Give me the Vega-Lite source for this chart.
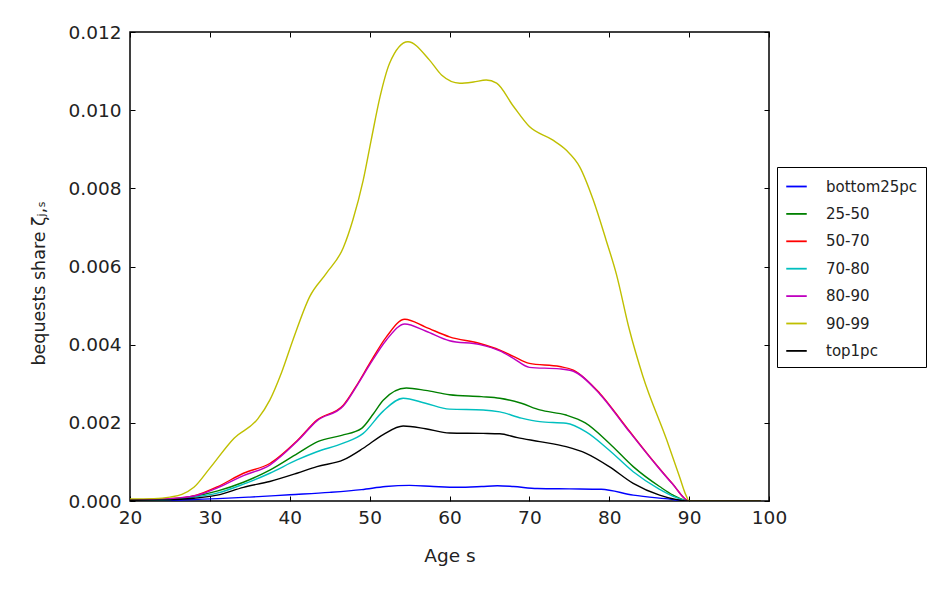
{
  "$schema": "https://vega.github.io/schema/vega-lite/v6.json",
  "width": 639,
  "height": 469,
  "autosize": {"type": "none"},
  "padding": {"left": 130, "top": 32, "right": 168, "bottom": 91},
  "background": "white",
  "config": {
    "font": "DejaVu Sans",
    "view": {"stroke": "#000000", "strokeWidth": 1.5},
    "axis": {"domain": false, "grid": false, "tickColor": "#000000", "tickSize": -5, "tickWidth": 1, "labelFlush": false,
      "labelFont": "DejaVu Sans", "labelFontSize": 18.5, "labelColor": "#222222",
      "titleFont": "DejaVu Sans", "titleFontSize": 18.5, "titleFontWeight": "normal", "titleColor": "#222222"}
  },
  "data": {"values": [
    {"age":20,"group":"bottom25pc","v":0.00001},{"age":25,"group":"bottom25pc","v":0.00002},{"age":28,"group":"bottom25pc","v":0.00004},{"age":31,"group":"bottom25pc","v":0.00006},{"age":35,"group":"bottom25pc","v":0.0001},{"age":40,"group":"bottom25pc","v":0.00016},{"age":45,"group":"bottom25pc","v":0.00022},{"age":49,"group":"bottom25pc","v":0.00029},{"age":52,"group":"bottom25pc","v":0.00037},{"age":55,"group":"bottom25pc","v":0.0004},{"age":58,"group":"bottom25pc","v":0.00037},{"age":61,"group":"bottom25pc","v":0.00035},{"age":64,"group":"bottom25pc","v":0.00037},{"age":66,"group":"bottom25pc","v":0.00039},{"age":68,"group":"bottom25pc","v":0.00037},{"age":71,"group":"bottom25pc","v":0.00032},{"age":75,"group":"bottom25pc","v":0.00031},{"age":79,"group":"bottom25pc","v":0.0003},{"age":83,"group":"bottom25pc","v":0.00015},{"age":87,"group":"bottom25pc","v":0.00006},{"age":90,"group":"bottom25pc","v":0},{"age":99,"group":"bottom25pc","v":0},

    {"age":20,"group":"25-50","v":0.00002},{"age":25,"group":"25-50","v":0.00004},{"age":28,"group":"25-50","v":0.00012},{"age":31,"group":"25-50","v":0.00026},{"age":34.2,"group":"25-50","v":0.00048},{"age":37.5,"group":"25-50","v":0.00079},{"age":41,"group":"25-50","v":0.00122},{"age":43.5,"group":"25-50","v":0.00152},{"age":46.5,"group":"25-50","v":0.00168},{"age":49,"group":"25-50","v":0.00186},{"age":50.5,"group":"25-50","v":0.00224},{"age":51.7,"group":"25-50","v":0.00258},{"age":54.6,"group":"25-50","v":0.00289},{"age":57,"group":"25-50","v":0.00283},{"age":60,"group":"25-50","v":0.00272},{"age":64,"group":"25-50","v":0.00267},{"age":66.3,"group":"25-50","v":0.00263},{"age":69,"group":"25-50","v":0.0025},{"age":71.3,"group":"25-50","v":0.00233},{"age":74.6,"group":"25-50","v":0.0022},{"age":77,"group":"25-50","v":0.002},{"age":80,"group":"25-50","v":0.00148},{"age":83,"group":"25-50","v":0.00088},{"age":86.3,"group":"25-50","v":0.00037},{"age":88,"group":"25-50","v":0.00015},{"age":90,"group":"25-50","v":0},{"age":99,"group":"25-50","v":0},

    {"age":20,"group":"50-70","v":0.00003},{"age":25,"group":"50-70","v":0.00006},{"age":28.3,"group":"50-70","v":0.00015},{"age":31,"group":"50-70","v":0.00037},{"age":34.2,"group":"50-70","v":0.00071},{"age":37.5,"group":"50-70","v":0.00096},{"age":41,"group":"50-70","v":0.00156},{"age":43.4,"group":"50-70","v":0.00207},{"age":46.7,"group":"50-70","v":0.00245},{"age":48.5,"group":"50-70","v":0.003},{"age":50,"group":"50-70","v":0.00352},{"age":52.1,"group":"50-70","v":0.0042},{"age":54.4,"group":"50-70","v":0.00465},{"age":57,"group":"50-70","v":0.00445},{"age":60,"group":"50-70","v":0.0042},{"age":63.8,"group":"50-70","v":0.00403},{"age":66.3,"group":"50-70","v":0.00386},{"age":68,"group":"50-70","v":0.0037},{"age":70,"group":"50-70","v":0.00352},{"age":73.8,"group":"50-70","v":0.00344},{"age":75.5,"group":"50-70","v":0.00335},{"age":78.8,"group":"50-70","v":0.00276},{"age":82.1,"group":"50-70","v":0.0019},{"age":85.4,"group":"50-70","v":0.00105},{"age":87.9,"group":"50-70","v":0.00045},{"age":90,"group":"50-70","v":0},{"age":99,"group":"50-70","v":0},

    {"age":20,"group":"70-80","v":0.00002},{"age":25,"group":"70-80","v":0.00004},{"age":28,"group":"70-80","v":0.0001},{"age":30.9,"group":"70-80","v":0.0002},{"age":34.2,"group":"70-80","v":0.00043},{"age":37.5,"group":"70-80","v":0.00071},{"age":40.9,"group":"70-80","v":0.00105},{"age":43.4,"group":"70-80","v":0.00126},{"age":46.7,"group":"70-80","v":0.00148},{"age":49.2,"group":"70-80","v":0.00173},{"age":51.7,"group":"70-80","v":0.0023},{"age":54.2,"group":"70-80","v":0.00263},{"age":57,"group":"70-80","v":0.0025},{"age":60,"group":"70-80","v":0.00235},{"age":64.2,"group":"70-80","v":0.00233},{"age":66.3,"group":"70-80","v":0.00228},{"age":69,"group":"70-80","v":0.00212},{"age":71.3,"group":"70-80","v":0.00203},{"age":74.6,"group":"70-80","v":0.00199},{"age":77.1,"group":"70-80","v":0.00177},{"age":80,"group":"70-80","v":0.0013},{"age":83,"group":"70-80","v":0.00075},{"age":86.3,"group":"70-80","v":0.0003},{"age":88,"group":"70-80","v":0.00012},{"age":90,"group":"70-80","v":0},{"age":99,"group":"70-80","v":0},

    {"age":20,"group":"80-90","v":0.00003},{"age":25,"group":"80-90","v":0.00006},{"age":28.3,"group":"80-90","v":0.00014},{"age":31,"group":"80-90","v":0.00034},{"age":34.2,"group":"80-90","v":0.00065},{"age":37.5,"group":"80-90","v":0.00092},{"age":41,"group":"80-90","v":0.00154},{"age":43.4,"group":"80-90","v":0.00205},{"age":46.7,"group":"80-90","v":0.00243},{"age":48.5,"group":"80-90","v":0.00298},{"age":50,"group":"80-90","v":0.00348},{"age":52.1,"group":"80-90","v":0.00412},{"age":54.4,"group":"80-90","v":0.00453},{"age":57,"group":"80-90","v":0.00435},{"age":60,"group":"80-90","v":0.0041},{"age":63.8,"group":"80-90","v":0.004},{"age":66.3,"group":"80-90","v":0.00384},{"age":68,"group":"80-90","v":0.00365},{"age":70,"group":"80-90","v":0.00342},{"age":73.8,"group":"80-90","v":0.00338},{"age":75.5,"group":"80-90","v":0.00332},{"age":78.8,"group":"80-90","v":0.00274},{"age":82.1,"group":"80-90","v":0.00188},{"age":85.4,"group":"80-90","v":0.00104},{"age":87.9,"group":"80-90","v":0.00044},{"age":90,"group":"80-90","v":0},{"age":99,"group":"80-90","v":0},

    {"age":20,"group":"90-99","v":0.00005},{"age":23,"group":"90-99","v":0.00006},{"age":25,"group":"90-99","v":0.0001},{"age":26.5,"group":"90-99","v":0.00017},{"age":28,"group":"90-99","v":0.00035},{"age":30,"group":"90-99","v":0.00084},{"age":33,"group":"90-99","v":0.0016},{"age":36,"group":"90-99","v":0.0021},{"age":37.5,"group":"90-99","v":0.00258},{"age":39,"group":"90-99","v":0.0033},{"age":40.4,"group":"90-99","v":0.00412},{"age":42.5,"group":"90-99","v":0.00523},{"age":44.6,"group":"90-99","v":0.00583},{"age":46.7,"group":"90-99","v":0.00648},{"age":47.9,"group":"90-99","v":0.00719},{"age":49.2,"group":"90-99","v":0.00821},{"age":50.2,"group":"90-99","v":0.00924},{"age":51.3,"group":"90-99","v":0.01034},{"age":52.5,"group":"90-99","v":0.0112},{"age":54.8,"group":"90-99","v":0.01175},{"age":57.5,"group":"90-99","v":0.01128},{"age":59,"group":"90-99","v":0.0109},{"age":61.3,"group":"90-99","v":0.01069},{"age":63,"group":"90-99","v":0.01072},{"age":64.6,"group":"90-99","v":0.01077},{"age":65.9,"group":"90-99","v":0.01069},{"age":68,"group":"90-99","v":0.0101},{"age":70,"group":"90-99","v":0.00958},{"age":72.9,"group":"90-99","v":0.00924},{"age":74.6,"group":"90-99","v":0.00898},{"age":76.3,"group":"90-99","v":0.00855},{"age":78,"group":"90-99","v":0.0077},{"age":79.6,"group":"90-99","v":0.00668},{"age":80.9,"group":"90-99","v":0.0058},{"age":82.5,"group":"90-99","v":0.0044},{"age":84.2,"group":"90-99","v":0.0032},{"age":87.2,"group":"90-99","v":0.00156},{"age":88.8,"group":"90-99","v":0.00062},{"age":89.6,"group":"90-99","v":0.00015},{"age":90,"group":"90-99","v":0},{"age":99,"group":"90-99","v":0},

    {"age":20,"group":"top1pc","v":0.00002},{"age":25,"group":"top1pc","v":0.00003},{"age":28,"group":"top1pc","v":0.00007},{"age":30.9,"group":"top1pc","v":0.00015},{"age":34.2,"group":"top1pc","v":0.00035},{"age":37.5,"group":"top1pc","v":0.0005},{"age":40.9,"group":"top1pc","v":0.00071},{"age":43.4,"group":"top1pc","v":0.00088},{"age":46.7,"group":"top1pc","v":0.00105},{"age":49.2,"group":"top1pc","v":0.00135},{"age":51.7,"group":"top1pc","v":0.0017},{"age":54.2,"group":"top1pc","v":0.00192},{"age":57,"group":"top1pc","v":0.00185},{"age":60,"group":"top1pc","v":0.00174},{"age":64.2,"group":"top1pc","v":0.00173},{"age":66.3,"group":"top1pc","v":0.00172},{"age":68.5,"group":"top1pc","v":0.00162},{"age":71.3,"group":"top1pc","v":0.00152},{"age":74.6,"group":"top1pc","v":0.00139},{"age":77.1,"group":"top1pc","v":0.00122},{"age":80,"group":"top1pc","v":0.00088},{"age":83,"group":"top1pc","v":0.00045},{"age":86.3,"group":"top1pc","v":0.00015},{"age":90,"group":"top1pc","v":0},{"age":99,"group":"top1pc","v":0}
  ]},
  "resolve": {"axis": {"x": "independent", "y": "independent"}},
  "layer": [
    {
      "mark": {"type": "line", "interpolate": "monotone", "strokeWidth": 1.4, "clip": true},
      "encoding": {
        "x": {"field": "age", "type": "quantitative", "scale": {"domain": [20, 100], "nice": false, "zero": false},
          "axis": {"orient": "bottom", "values": [20,30,40,50,60,70,80,90,100], "labelPadding": 12, "title": "Age s", "titleY": 60, "titleBaseline": "alphabetic"}},
        "y": {"field": "v", "type": "quantitative", "scale": {"domain": [0, 0.012], "nice": false},
          "axis": {"orient": "left", "values": [0,0.002,0.004,0.006,0.008,0.010,0.012], "format": ".3f", "labelPadding": 14, "title": "bequests share ζⱼ,ₛ", "titleFontSize": 17.5, "titleX": -86, "titleY": 333, "titleAlign": "left", "titleBaseline": "alphabetic"}},
        "color": {"field": "group", "type": "nominal",
          "scale": {"domain": ["bottom25pc","25-50","50-70","70-80","80-90","90-99","top1pc"], "range": ["#0000ff","#008000","#ff0000","#00bfbf","#bf00bf","#bfbf00","#000000"]},
          "legend": {"title": null, "orient": "none", "legendX": 647, "legendY": 135, "symbolType": "stroke", "symbolSize": 420, "symbolStrokeWidth": 1.8,
            "labelFontSize": 15, "labelFont": "DejaVu Sans", "labelColor": "#222222", "labelOffset": 18, "rowPadding": 7.4, "padding": 8,
            "strokeColor": "#000000", "fillColor": "white"}}
      }
    },
    {
      "mark": {"type": "line", "opacity": 0},
      "encoding": {
        "x": {"field": "age", "type": "quantitative", "axis": {"orient": "top", "values": [20,30,40,50,60,70,80,90,100], "labels": false, "title": null}},
        "y": {"field": "v", "type": "quantitative", "axis": {"orient": "right", "values": [0,0.002,0.004,0.006,0.008,0.010,0.012], "labels": false, "title": null}},
        "detail": {"field": "group"}
      }
    }
  ]
}
